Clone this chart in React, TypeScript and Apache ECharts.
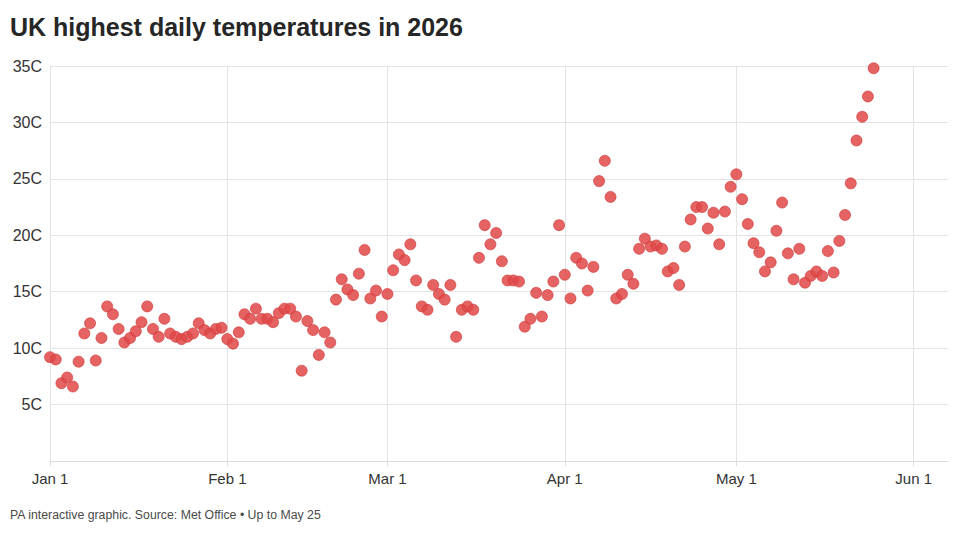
import React, { useEffect, useRef } from "react";
import * as echarts from "echarts";

// Daily highest temperature (°C), one value per day from Jan 1 2026 (day 0) to May 25 2026
const temps: number[] = [
  // Jan
  9.2, 9.0, 6.9, 7.4, 6.6, 8.8, 11.3, 12.2, 8.9, 10.9, 13.7, 13.0, 11.7, 10.5, 10.9, 11.5,
  12.3, 13.7, 11.7, 11.0, 12.6, 11.3, 11.0, 10.8, 11.0, 11.3, 12.2, 11.6, 11.3, 11.7, 11.8,
  // Feb
  10.8, 10.4, 11.4, 13.0, 12.6, 13.5, 12.6, 12.6, 12.3, 13.1, 13.5, 13.5, 12.8, 8.0, 12.4,
  11.6, 9.4, 11.4, 10.5, 14.3, 16.1, 15.2, 14.7, 16.6, 18.7, 14.4, 15.1, 12.8,
  // Mar
  14.8, 16.9, 18.3, 17.8, 19.2, 16.0, 13.7, 13.4, 15.6, 14.8, 14.3, 15.6, 11.0, 13.4, 13.7,
  13.4, 18.0, 20.9, 19.2, 20.2, 17.7, 16.0, 16.0, 15.9, 11.9, 12.6, 14.9, 12.8, 14.7, 15.9,
  20.9,
  // Apr
  16.5, 14.4, 18.0, 17.5, 15.1, 17.2, 24.8, 26.6, 23.4, 14.4, 14.8, 16.5, 15.7, 18.8, 19.7,
  19.0, 19.1, 18.8, 16.8, 17.1, 15.6, 19.0, 21.4, 22.5, 22.5, 20.6, 22.0, 19.2, 22.1, 24.3,
  // May
  25.4, 23.2, 21.0, 19.3, 18.5, 16.8, 17.6, 20.4, 22.9, 18.4, 16.1, 18.8, 15.8, 16.4, 16.8,
  16.4, 18.6, 16.7, 19.5, 21.8, 24.6, 28.4, 30.5, 32.3, 34.8,
];

// Month starts as day offsets from Jan 1, and their tick labels
const monthTickDays: number[] = [0, 31, 59, 90, 120, 151];
const monthTickLabels: string[] = ["Jan 1", "Feb 1", "Mar 1", "Apr 1", "May 1", "Jun 1"];

const yTicks: number[] = [0, 5, 10, 15, 20, 25, 30, 35];

const titleText = "UK highest daily temperatures in 2026";
const footerText = "PA interactive graphic. Source: Met Office \u2022 Up to May 25";

export default function App() {
  const ref = useRef<HTMLDivElement>(null);

  useEffect(() => {
    if (!ref.current) return;
    const chart = echarts.init(ref.current, undefined, { renderer: "svg" });
    const font = "'Liberation Sans', Arial, Helvetica, sans-serif";
    const gridColor = "#e4e4e4";

    chart.setOption({
      animation: false,
      backgroundColor: "#ffffff",
      textStyle: { fontFamily: font },
      title: [
        {
          text: titleText,
          left: 10,
          top: 14,
          padding: 0,
          textStyle: { fontFamily: font, fontSize: 25, fontWeight: "bold", color: "#262626" },
        },
        {
          text: footerText,
          left: 10,
          top: 509,
          padding: 0,
          textStyle: { fontFamily: font, fontSize: 12.3, fontWeight: "normal", color: "#4a4a4a" },
        },
      ],
      grid: { left: 50, right: 12, top: 66, bottom: 74, containLabel: false },
      xAxis: {
        type: "value",
        min: 0,
        max: 157,
        axisLine: { show: true, lineStyle: { color: "#dcdcdc", width: 1 } },
        axisTick: {
          show: true,
          length: 5,
          customValues: monthTickDays,
          lineStyle: { color: "#dcdcdc" },
        },
        axisLabel: {
          customValues: monthTickDays,
          margin: 10,
          fontSize: 15,
          color: "#333333",
          fontFamily: font,
          formatter: (v: number) => {
            const i = monthTickDays.indexOf(Math.round(v));
            return i >= 0 ? monthTickLabels[i] : "";
          },
        },
        splitLine: { show: true, lineStyle: { color: gridColor, width: 1 } },
      },
      yAxis: {
        type: "value",
        min: yTicks[0],
        max: yTicks[yTicks.length - 1],
        interval: 5,
        axisLine: { show: false },
        axisTick: { show: false },
        axisLabel: {
          margin: 8,
          fontSize: 16,
          color: "#333333",
          fontFamily: font,
          formatter: (v: number) => (v === 0 ? "" : `${v}C`),
        },
        splitLine: { show: true, lineStyle: { color: gridColor, width: 1 } },
      },
      series: [
        {
          type: "scatter",
          data: temps.map((t, i) => [i, t]),
          symbol: "circle",
          symbolSize: 11,
          itemStyle: {
            color: "#e04848",
            opacity: 0.85,
            borderColor: "#d13c3c",
            borderWidth: 0.8,
          },
          emphasis: { disabled: true },
        },
      ],
    });

    return () => chart.dispose();
  }, []);

  return (
    <div
      ref={ref}
      style={{ position: "absolute", left: 0, top: 0, width: 960, height: 535 }}
    />
  );
}
